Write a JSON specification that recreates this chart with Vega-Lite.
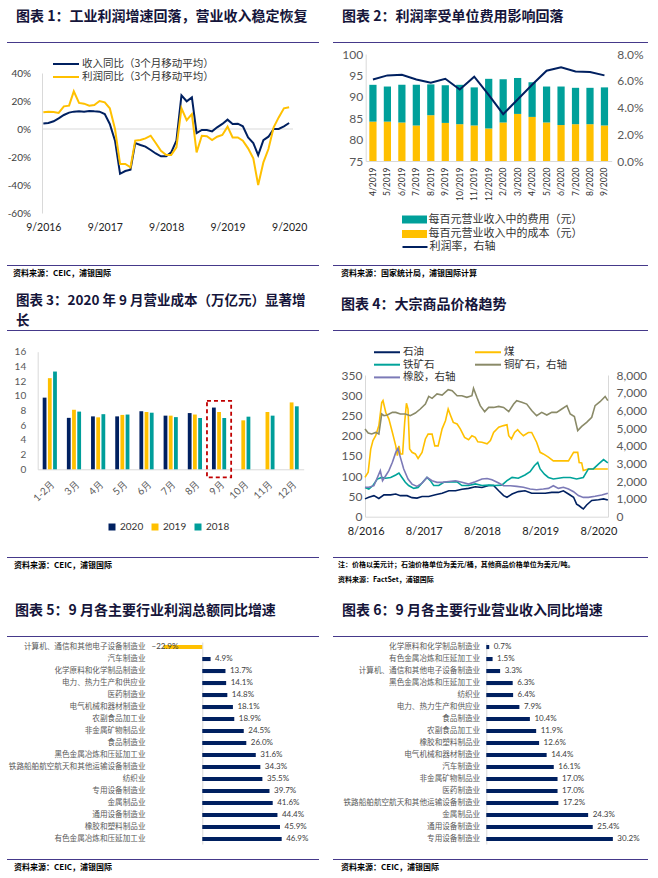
{
"$schema": "https://vega.github.io/schema/vega-lite/v6.json",
"background": "white",
"padding": {"left": 7, "top": 10, "right": 5, "bottom": 0},
"columns": 2,
"bounds": "flush",
"align": "each",
"spacing": {"row": 0, "column": 14},
"resolve": {"scale": {"color": "independent", "stroke": "independent"}, "legend": {"color": "independent", "stroke": "independent"}},
"config": {
  "view": {"stroke": null},
  "font": "Noto Sans CJK SC",
  "axis": {"ticks": false, "grid": false, "domainColor": "#D9D9D9", "labelFont": "Lato", "labelColor": "#595959", "labelOverlap": false, "labelFlush": false},
  "legend": {"labelFont": "Noto Sans CJK SC", "labelColor": "#333333"},
  "title": {"font": "Noto Sans CJK SC", "fontWeight": "bold", "anchor": "start", "color": "#15153A", "fontSize": 14}
},
"concat": [
  {"width": 312, "height": 1, "view": {"fill": "#45398A", "stroke": null}, "data": {"values": []}, "mark": "point",
   "title": {"text": "图表 1：工业利润增速回落，营业收入稳定恢复", "dx": 9, "offset": 18}},
  {"width": 315, "height": 1, "view": {"fill": "#45398A", "stroke": null}, "data": {"values": []}, "mark": "point",
   "title": {"text": "图表 2：利润率受单位费用影响回落", "dx": 9, "offset": 18}},

  {
    "width": 312, "height": 222,
    "data": {"values": [
      {"d":"2016/09/01","r":4.0,"p":11.9},{"d":"2016/10/01","r":4.3,"p":12.4},{"d":"2016/11/01","r":5.5,"p":12.1},{"d":"2016/12/01","r":7.6,"p":11.5},
      {"d":"2017/01/01","r":10.0,"p":16.2},{"d":"2017/02/01","r":11.7,"p":16.7},{"d":"2017/03/01","r":12.4,"p":26.9},{"d":"2017/04/01","r":12.6,"p":18.6},
      {"d":"2017/05/01","r":12.4,"p":18.1},{"d":"2017/06/01","r":12.9,"p":16.7},{"d":"2017/07/01","r":12.6,"p":17.1},{"d":"2017/08/01","r":12.4,"p":20.0},
      {"d":"2017/09/01","r":10.7,"p":19.0},{"d":"2017/10/01","r":3.6,"p":14.8},{"d":"2017/11/01","r":-8.3,"p":0.0},{"d":"2017/12/01","r":-32.0,"p":-25.0},
      {"d":"2018/01/01","r":-30.0,"p":-25.0},{"d":"2018/02/01","r":-29.0,"p":-27.4},{"d":"2018/03/01","r":-10.0,"p":-8.3},{"d":"2018/04/01","r":-11.4,"p":-7.9},
      {"d":"2018/05/01","r":-12.6,"p":-6.7},{"d":"2018/06/01","r":-15.0,"p":-4.8},{"d":"2018/07/01","r":-17.5,"p":-10.0},{"d":"2018/08/01","r":-19.5,"p":-15.5},
      {"d":"2018/09/01","r":-19.5,"p":-18.6},{"d":"2018/10/01","r":-16.7,"p":-18.6},{"d":"2018/11/01","r":-8.3,"p":-13.1},{"d":"2018/12/01","r":24.0,"p":14.8},
      {"d":"2019/01/01","r":19.8,"p":6.4},{"d":"2019/02/01","r":22.6,"p":10.7},{"d":"2019/03/01","r":-2.9,"p":-16.7},{"d":"2019/04/01","r":-0.7,"p":-4.8},
      {"d":"2019/05/01","r":-0.7,"p":-5.2},{"d":"2019/06/01","r":-1.7,"p":-7.9},{"d":"2019/07/01","r":1.2,"p":-5.5},{"d":"2019/08/01","r":3.6,"p":-4.3},
      {"d":"2019/09/01","r":6.7,"p":1.7},{"d":"2019/10/01","r":3.6,"p":-6.0},{"d":"2019/11/01","r":3.8,"p":-6.0},{"d":"2019/12/01","r":1.9,"p":-8.3},
      {"d":"2020/01/01","r":-6.0,"p":-13.8},{"d":"2020/02/01","r":-10.0,"p":-21.0},{"d":"2020/03/01","r":-18.6,"p":-40.0},{"d":"2020/04/01","r":-7.9,"p":-23.8},
      {"d":"2020/05/01","r":-5.5,"p":-14.3},{"d":"2020/06/01","r":0.0,"p":1.2},{"d":"2020/07/01","r":0.0,"p":8.3},{"d":"2020/08/01","r":1.9,"p":14.8},
      {"d":"2020/09/01","r":4.3,"p":15.5}
    ]},
    "layer": [
      {"data": {"values": [{"z": 0}]}, "mark": {"type": "rule", "color": "#D9D9D9", "strokeWidth": 1},
       "encoding": {
         "x": {"datum": {"year":2016,"month":8,"date":24}, "type": "temporal"},
         "x2": {"datum": {"year":2020,"month":9,"date":24}},
         "y": {"field": "z", "type": "quantitative"}}},
      {"mark": {"type": "line", "strokeWidth": 2},
       "encoding": {
         "x": {"field": "d", "type": "temporal", "title": null,
           "scale": {"domain": [{"year":2016,"month":8,"date":24},{"year":2020,"month":9,"date":24}], "range": [35, 286]},
           "axis": {"values": [{"year":2016,"month":9,"date":1},{"year":2017,"month":9,"date":1},{"year":2018,"month":9,"date":1},{"year":2019,"month":9,"date":1},{"year":2020,"month":9,"date":1}],
             "format": "%-m/%Y", "domain": false, "offset": -52, "labelPadding": 9, "labelFontSize": 10.5, "labelColor": "#222222"}},
         "y": {"field": "r", "type": "quantitative", "title": null, "scale": {"domain": [-60, 40], "range": [170, 30]},
           "axis": {"values": [-60,-40,-20,0,20,40], "labelExpr": "datum.value + '%'", "offset": -35, "labelPadding": 11.5, "labelFontSize": 10, "labelColor": "#404040", "domain": true}},
         "color": {"datum": "收入同比（3个月移动平均）",
           "scale": {"domain": ["收入同比（3个月移动平均）", "利润同比（3个月移动平均）"], "range": ["#002060", "#FFC000"]},
           "legend": {"orient": "none", "legendX": 53, "legendY": 15, "title": null, "symbolType": "M-2.6,0H2.6", "symbolSize": 100, "symbolStrokeWidth": 2, "labelFontSize": 10.5, "labelOffset": 10, "rowPadding": 1, "labelLimit": 300}}
       }},
      {"mark": {"type": "line", "strokeWidth": 2},
       "encoding": {
         "x": {"field": "d", "type": "temporal", "title": null},
         "y": {"field": "p", "type": "quantitative", "title": null},
         "color": {"datum": "利润同比（3个月移动平均）"}
       }}
    ]
  },
  {
    "width": 315, "height": 222,
    "data": {"values": [
      {"m":"4/2019","cost":84.2,"total":92.8,"rate":6.1},{"m":"5/2019","cost":84.2,"total":92.4,"rate":6.4},{"m":"6/2019","cost":84.0,"total":92.8,"rate":6.45},
      {"m":"7/2019","cost":83.3,"total":92.8,"rate":6.1},{"m":"8/2019","cost":85.7,"total":92.9,"rate":5.85},{"m":"9/2019","cost":83.9,"total":92.7,"rate":6.15},
      {"m":"10/2019","cost":83.6,"total":92.8,"rate":5.35},{"m":"11/2019","cost":83.3,"total":92.2,"rate":6.3},{"m":"12/2019","cost":82.6,"total":94.2,"rate":4.95},
      {"m":"2/2020","cost":84.0,"total":94.1,"rate":3.5},{"m":"3/2020","cost":86.0,"total":94.4,"rate":4.6},{"m":"4/2020","cost":85.3,"total":93.4,"rate":5.7},
      {"m":"5/2020","cost":84.0,"total":92.4,"rate":6.75},{"m":"6/2020","cost":83.4,"total":92.4,"rate":7.0},{"m":"7/2020","cost":83.6,"total":92.1,"rate":6.7},
      {"m":"8/2020","cost":83.6,"total":92.1,"rate":6.65},{"m":"9/2020","cost":83.3,"total":92.2,"rate":6.4}
    ]},
    "encoding": {"x": {"field": "m", "type": "ordinal", "sort": null, "title": null,
       "scale": {"range": [32.7, 278.7], "paddingInner": 0.5, "paddingOuter": 0.25},
       "axis": {"labelAngle": 270, "labelFontSize": 8.5, "labelColor": "#333333", "labelPadding": 6, "offset": -104, "domain": true}}},
    "layer": [
      {"layer": [
        {"mark": {"type": "bar"},
         "encoding": {
           "y": {"field": "cost", "type": "quantitative", "title": null, "scale": {"domain": [75, 100], "range": [118, 11], "zero": false, "nice": false},
             "axis": {"values": [75,80,85,90,95,100], "labelFontSize": 12, "labelPadding": 3, "offset": -32.7, "domain": true}},
           "y2": {"datum": 75},
           "color": {"datum": "每百元营业收入中的成本（元）",
             "scale": {"domain": ["每百元营业收入中的费用（元）", "每百元营业收入中的成本（元）"], "range": ["#00A09A", "#FFC000"]},
             "legend": {"orient": "none", "legendX": 76, "legendY": 171, "title": null, "symbolType": "M-2.5,-0.8H2.5V0.8H-2.5Z", "symbolSize": 100, "symbolStrokeWidth": 0, "labelFontSize": 11, "labelOffset": 8.5, "rowPadding": 2.5, "labelLimit": 300}}
         }},
        {"mark": {"type": "bar"},
         "encoding": {
           "y": {"field": "total", "type": "quantitative", "title": null},
           "y2": {"field": "cost"},
           "color": {"datum": "每百元营业收入中的费用（元）"}
         }}
      ]},
      {"mark": {"type": "line", "strokeWidth": 2},
       "encoding": {
         "y": {"field": "rate", "type": "quantitative", "title": null, "scale": {"domain": [0, 8], "range": [118, 11]},
           "axis": {"orient": "right", "values": [0,2,4,6,8], "labelExpr": "format(datum.value, '.1f') + '%'", "labelFontSize": 12, "labelPadding": 5, "offset": -36.3, "domain": false}},
         "stroke": {"datum": "利润率，右轴", "scale": {"range": ["#002060"]},
           "legend": {"orient": "none", "legendX": 76, "legendY": 198, "title": null, "symbolType": "M-2.5,0H2.5", "symbolSize": 100, "symbolStrokeWidth": 2, "labelFontSize": 11, "labelOffset": 8.5, "labelLimit": 300}}
       }}
    ],
    "resolve": {"scale": {"y": "independent"}}
  },

  {"width": 312, "height": 1, "view": {"fill": "#45398A", "stroke": null}, "data": {"values": []}, "mark": "point",
   "title": {"text": "资料来源：CEIC，浦银国际", "orient": "bottom", "dx": 6, "offset": 4, "fontSize": 8, "color": "#000000"}},
  {"width": 315, "height": 1, "view": {"fill": "#45398A", "stroke": null}, "data": {"values": []}, "mark": "point",
   "title": {"text": "资料来源：国家统计局，浦银国际计算", "orient": "bottom", "dx": 8, "offset": 4, "fontSize": 8, "color": "#000000"}},

  {"width": 1, "height": 64, "data": {"values": []}, "mark": "point"},
  {"width": 1, "height": 64, "data": {"values": []}, "mark": "point"},

  {"width": 312, "height": 1, "view": {"fill": "#45398A", "stroke": null}, "data": {"values": []}, "mark": "point",
   "title": {"text": ["图表 3：2020 年 9 月营业成本（万亿元）显著增", "长"], "dx": 9, "offset": 3, "fontSize": 13.5, "lineHeight": 20}},
  {"width": 315, "height": 1, "view": {"fill": "#45398A", "stroke": null}, "data": {"values": []}, "mark": "point",
   "title": {"text": "图表 4：大宗商品价格趋势", "dx": 8, "offset": 18}},

  {
    "width": 312, "height": 226,
    "layer": [
      {"data": {"values": [
        {"c":"1-2月","y":"2020","v":9.75},{"c":"1-2月","y":"2019","v":12.4},{"c":"1-2月","y":"2018","v":13.3},
        {"c":"3月","y":"2020","v":7.0},{"c":"3月","y":"2019","v":8.1},{"c":"3月","y":"2018","v":7.85},
        {"c":"4月","y":"2020","v":7.2},{"c":"4月","y":"2019","v":7.07},{"c":"4月","y":"2018","v":7.5},
        {"c":"5月","y":"2020","v":7.2},{"c":"5月","y":"2019","v":7.4},{"c":"5月","y":"2018","v":7.45},
        {"c":"6月","y":"2020","v":7.9},{"c":"6月","y":"2019","v":7.8},{"c":"6月","y":"2018","v":7.7},
        {"c":"7月","y":"2020","v":7.3},{"c":"7月","y":"2019","v":7.3},{"c":"7月","y":"2018","v":7.1},
        {"c":"8月","y":"2020","v":7.65},{"c":"8月","y":"2019","v":7.45},{"c":"8月","y":"2018","v":6.98},
        {"c":"9月","y":"2020","v":8.4},{"c":"9月","y":"2019","v":7.8},{"c":"9月","y":"2018","v":6.98},
        {"c":"10月","y":"2019","v":6.66},{"c":"10月","y":"2018","v":7.16},
        {"c":"11月","y":"2019","v":7.8},{"c":"11月","y":"2018","v":7.3},
        {"c":"12月","y":"2019","v":9.1},{"c":"12月","y":"2018","v":8.57}
       ]},
       "mark": {"type": "bar"},
       "encoding": {
         "x": {"field": "c", "type": "nominal", "title": null,
           "scale": {"domain": ["1-2月","3月","4月","5月","6月","7月","8月","9月","10月","11月","12月"], "range": [30.7, 296.7], "paddingInner": 0, "paddingOuter": 0},
           "axis": {"labelAngle": -45, "labelFontSize": 10, "labelColor": "#595959", "labelPadding": 9, "offset": -87.7, "domain": true}},
         "xOffset": {"field": "y", "type": "nominal", "scale": {"domain": ["2020","2019","2018"], "paddingInner": 0.27, "paddingOuter": 0.96}},
         "y": {"field": "v", "type": "quantitative", "title": null, "scale": {"domain": [0, 16], "range": [138.3, 20.7]},
           "axis": {"values": [0,2,4,6,8,10,12,14,16], "labelFontSize": 10, "labelPadding": 12, "labelColor": "#595959", "offset": -30.7, "domain": true}},
         "color": {"field": "y", "type": "nominal", "scale": {"domain": ["2020","2019","2018"], "range": ["#002060","#FFC000","#009E9A"]},
           "legend": {"orient": "none", "direction": "horizontal", "legendX": 100, "legendY": 191, "title": null, "symbolType": "square", "symbolSize": 49, "labelFont": "Lato", "labelFontSize": 10, "labelColor": "#333333", "columnPadding": 6, "labelOffset": 3}}
       }},
      {"data": {"values": [{"c": "9月", "hi": 9.3, "lo": -1.1}]},
       "mark": {"type": "rect", "filled": false, "stroke": "#C00000", "strokeWidth": 1.8, "strokeDash": [4, 3]},
       "encoding": {
         "x": {"field": "c", "type": "nominal", "title": null},
         "y": {"field": "hi", "type": "quantitative", "title": null,
           "axis": {"values": [0,2,4,6,8,10,12,14,16], "labelFontSize": 10, "labelPadding": 12, "labelColor": "#595959", "offset": -30.7, "domain": true}},
         "y2": {"field": "lo"}
       }}
    ]
  },
  {
    "width": 315, "height": 226,
    "data": {"values": [
      {"d":"2016/07/28","s":"石油","v":44},{"d":"2016/08/21","s":"石油","v":48},{"d":"2016/09/22","s":"石油","v":52},{"d":"2016/10/23","s":"石油","v":45},{"d":"2016/11/24","s":"石油","v":54},
      {"d":"2017/01/05","s":"石油","v":54},{"d":"2017/02/06","s":"石油","v":56},{"d":"2017/03/07","s":"石油","v":52},{"d":"2017/04/18","s":"石油","v":52},{"d":"2017/05/19","s":"石油","v":47},
      {"d":"2017/06/19","s":"石油","v":46},{"d":"2017/07/21","s":"石油","v":50},{"d":"2017/09/01","s":"石油","v":50},{"d":"2017/10/13","s":"石油","v":54},{"d":"2017/11/24","s":"石油","v":58},
      {"d":"2018/01/05","s":"石油","v":64},{"d":"2018/02/16","s":"石油","v":64},{"d":"2018/03/28","s":"石油","v":68},{"d":"2018/05/09","s":"石油","v":70},{"d":"2018/06/20","s":"石油","v":74},
      {"d":"2018/08/01","s":"石油","v":72},{"d":"2018/09/12","s":"石油","v":77},{"d":"2018/10/13","s":"石油","v":77},{"d":"2018/11/14","s":"石油","v":64},{"d":"2018/12/15","s":"石油","v":52},
      {"d":"2019/01/05","s":"石油","v":48},{"d":"2019/02/06","s":"石油","v":56},{"d":"2019/03/17","s":"石油","v":62},{"d":"2019/04/28","s":"石油","v":64},{"d":"2019/06/09","s":"石油","v":58},
      {"d":"2019/07/21","s":"石油","v":58},{"d":"2019/09/02","s":"石油","v":58},{"d":"2019/10/13","s":"石油","v":60},{"d":"2019/11/24","s":"石油","v":60},{"d":"2019/12/25","s":"石油","v":64},
      {"d":"2020/01/26","s":"石油","v":56},{"d":"2020/02/27","s":"石油","v":48},{"d":"2020/03/17","s":"石油","v":31},{"d":"2020/04/02","s":"石油","v":27},{"d":"2020/04/28","s":"石油","v":19},
      {"d":"2020/05/19","s":"石油","v":29},{"d":"2020/06/20","s":"石油","v":40},{"d":"2020/08/01","s":"石油","v":42},{"d":"2020/09/02","s":"石油","v":44},{"d":"2020/09/29","s":"石油","v":41},

      {"d":"2016/07/28","s":"煤","v":97},{"d":"2016/08/17","s":"煤","v":110},{"d":"2016/09/02","s":"煤","v":167},{"d":"2016/09/16","s":"煤","v":188},{"d":"2016/10/03","s":"煤","v":200},
      {"d":"2016/10/23","s":"煤","v":225},{"d":"2016/11/10","s":"煤","v":282},{"d":"2016/11/18","s":"煤","v":287},{"d":"2016/12/05","s":"煤","v":258},{"d":"2016/12/25","s":"煤","v":241},
      {"d":"2017/01/16","s":"煤","v":208},{"d":"2017/02/06","s":"煤","v":175},{"d":"2017/02/16","s":"煤","v":151},{"d":"2017/02/26","s":"煤","v":175},{"d":"2017/03/07","s":"煤","v":155},
      {"d":"2017/03/21","s":"煤","v":155},{"d":"2017/04/03","s":"煤","v":233},{"d":"2017/04/14","s":"煤","v":280},{"d":"2017/04/24","s":"煤","v":266},{"d":"2017/05/04","s":"煤","v":167},
      {"d":"2017/05/19","s":"煤","v":159},{"d":"2017/06/09","s":"煤","v":155},{"d":"2017/06/26","s":"煤","v":144},{"d":"2017/07/21","s":"煤","v":159},{"d":"2017/08/11","s":"煤","v":192},
      {"d":"2017/08/28","s":"煤","v":204},{"d":"2017/09/22","s":"煤","v":204},{"d":"2017/10/09","s":"煤","v":175},{"d":"2017/10/30","s":"煤","v":175},{"d":"2017/11/24","s":"煤","v":217},
      {"d":"2017/12/15","s":"煤","v":237},{"d":"2018/01/01","s":"煤","v":266},{"d":"2018/01/16","s":"煤","v":250},{"d":"2018/02/02","s":"煤","v":233},{"d":"2018/02/26","s":"煤","v":229},
      {"d":"2018/03/18","s":"煤","v":217},{"d":"2018/04/14","s":"煤","v":196},{"d":"2018/05/09","s":"煤","v":190},{"d":"2018/05/30","s":"煤","v":200},{"d":"2018/06/20","s":"煤","v":196},
      {"d":"2018/07/06","s":"煤","v":185},{"d":"2018/08/01","s":"煤","v":184},{"d":"2018/09/02","s":"煤","v":180},{"d":"2018/09/23","s":"煤","v":188},{"d":"2018/10/13","s":"煤","v":208},
      {"d":"2018/11/14","s":"煤","v":221},{"d":"2018/12/15","s":"煤","v":225},{"d":"2019/01/05","s":"煤","v":227},{"d":"2019/01/16","s":"煤","v":200},{"d":"2019/02/02","s":"煤","v":192},
      {"d":"2019/02/22","s":"煤","v":208},{"d":"2019/03/13","s":"煤","v":215},{"d":"2019/03/28","s":"煤","v":208},{"d":"2019/04/18","s":"煤","v":200},{"d":"2019/05/19","s":"煤","v":208},
      {"d":"2019/06/09","s":"煤","v":208},{"d":"2019/07/10","s":"煤","v":184},{"d":"2019/08/01","s":"煤","v":159},{"d":"2019/08/21","s":"煤","v":155},{"d":"2019/09/22","s":"煤","v":147},
      {"d":"2019/10/23","s":"煤","v":138},{"d":"2019/11/24","s":"煤","v":138},{"d":"2019/12/25","s":"煤","v":138},{"d":"2020/01/26","s":"煤","v":138},{"d":"2020/02/27","s":"煤","v":159},
      {"d":"2020/03/24","s":"煤","v":159},{"d":"2020/04/02","s":"煤","v":134},{"d":"2020/04/18","s":"煤","v":133},{"d":"2020/04/28","s":"煤","v":114},{"d":"2020/05/30","s":"煤","v":118},
      {"d":"2020/07/11","s":"煤","v":118},{"d":"2020/09/29","s":"煤","v":118},

      {"d":"2016/07/28","s":"铁矿石","v":72},{"d":"2016/08/21","s":"铁矿石","v":68},{"d":"2016/09/16","s":"铁矿石","v":77},{"d":"2016/10/13","s":"铁矿石","v":93},{"d":"2016/11/10","s":"铁矿石","v":97},
      {"d":"2016/12/05","s":"铁矿石","v":95},{"d":"2017/01/05","s":"铁矿石","v":97},{"d":"2017/02/06","s":"铁矿石","v":103},{"d":"2017/02/26","s":"铁矿石","v":108},{"d":"2017/03/17","s":"铁矿石","v":97},
      {"d":"2017/04/07","s":"铁矿石","v":85},{"d":"2017/04/28","s":"铁矿石","v":77},{"d":"2017/05/30","s":"铁矿石","v":70},{"d":"2017/06/26","s":"铁矿石","v":72},{"d":"2017/07/25","s":"铁矿石","v":85},
      {"d":"2017/08/21","s":"铁矿石","v":97},{"d":"2017/09/11","s":"铁矿石","v":89},{"d":"2017/10/02","s":"铁矿石","v":77},{"d":"2017/11/03","s":"铁矿石","v":77},{"d":"2017/12/04","s":"铁矿石","v":85},
      {"d":"2018/01/16","s":"铁矿石","v":86},{"d":"2018/02/26","s":"铁矿石","v":86},{"d":"2018/03/28","s":"铁矿石","v":77},{"d":"2018/05/09","s":"铁矿石","v":77},{"d":"2018/06/20","s":"铁矿石","v":81},
      {"d":"2018/08/01","s":"铁矿石","v":77},{"d":"2018/09/12","s":"铁矿石","v":78},{"d":"2018/10/23","s":"铁矿石","v":77},{"d":"2018/12/04","s":"铁矿石","v":78},{"d":"2019/01/05","s":"铁矿石","v":89},
      {"d":"2019/02/06","s":"铁矿石","v":97},{"d":"2019/03/17","s":"铁矿石","v":95},{"d":"2019/04/28","s":"铁矿石","v":103},{"d":"2019/05/30","s":"铁矿石","v":111},{"d":"2019/06/26","s":"铁矿石","v":126},
      {"d":"2019/07/17","s":"铁矿石","v":134},{"d":"2019/08/01","s":"铁矿石","v":118},{"d":"2019/08/28","s":"铁矿石","v":105},{"d":"2019/09/22","s":"铁矿石","v":97},{"d":"2019/10/23","s":"铁矿石","v":93},
      {"d":"2019/11/24","s":"铁矿石","v":95},{"d":"2019/12/25","s":"铁矿石","v":97},{"d":"2020/02/06","s":"铁矿石","v":97},{"d":"2020/03/17","s":"铁矿石","v":93},{"d":"2020/04/28","s":"铁矿石","v":97},
      {"d":"2020/05/30","s":"铁矿石","v":118},{"d":"2020/06/30","s":"铁矿石","v":118},{"d":"2020/08/01","s":"铁矿石","v":130},{"d":"2020/09/02","s":"铁矿石","v":141},{"d":"2020/09/29","s":"铁矿石","v":133},

      {"d":"2016/07/28","s":"铜矿石，右轴","v":4950},{"d":"2016/08/17","s":"铜矿石，右轴","v":4720},{"d":"2016/09/08","s":"铜矿石，右轴","v":4670},{"d":"2016/10/03","s":"铜矿石，右轴","v":4760},
      {"d":"2016/10/23","s":"铜矿石，右轴","v":4670},{"d":"2016/11/10","s":"铜矿石，右轴","v":5800},{"d":"2016/11/24","s":"铜矿石，右轴","v":5700},{"d":"2016/12/15","s":"铜矿石，右轴","v":5740},
      {"d":"2017/01/16","s":"铜矿石，右轴","v":5890},{"d":"2017/02/06","s":"铜矿石，右轴","v":5890},{"d":"2017/03/07","s":"铜矿石，右轴","v":5800},{"d":"2017/04/07","s":"铜矿石，右轴","v":5800},
      {"d":"2017/05/08","s":"铜矿石，右轴","v":5700},{"d":"2017/06/09","s":"铜矿石，右轴","v":5850},{"d":"2017/07/10","s":"铜矿石，右轴","v":6080},{"d":"2017/08/11","s":"铜矿石，右轴","v":6360},
      {"d":"2017/09/01","s":"铜矿石，右轴","v":6790},{"d":"2017/09/22","s":"铜矿石，右轴","v":6680},{"d":"2017/10/23","s":"铜矿石，右轴","v":6930},{"d":"2017/11/24","s":"铜矿石，右轴","v":6870},
      {"d":"2018/01/01","s":"铜矿石，右轴","v":7170},{"d":"2018/01/26","s":"铜矿石，右轴","v":7110},{"d":"2018/02/26","s":"铜矿石，右轴","v":6830},{"d":"2018/03/28","s":"铜矿石，右轴","v":6830},
      {"d":"2018/04/28","s":"铜矿石，右轴","v":6740},{"d":"2018/05/30","s":"铜矿石，右轴","v":6830},{"d":"2018/06/09","s":"铜矿石，右轴","v":7250},{"d":"2018/06/30","s":"铜矿石，右轴","v":6740},
      {"d":"2018/07/21","s":"铜矿石，右轴","v":6270},{"d":"2018/08/18","s":"铜矿石，右轴","v":5930},{"d":"2018/09/12","s":"铜矿石，右轴","v":6170},{"d":"2018/10/13","s":"铜矿石，右轴","v":6170},
      {"d":"2018/11/14","s":"铜矿石，右轴","v":6230},{"d":"2018/12/15","s":"铜矿石，右轴","v":6170},{"d":"2019/01/16","s":"铜矿石，右轴","v":5930},{"d":"2019/02/16","s":"铜矿石，右轴","v":6360},
      {"d":"2019/03/07","s":"铜矿石，右轴","v":6550},{"d":"2019/04/08","s":"铜矿石，右轴","v":6460},{"d":"2019/05/09","s":"铜矿石，右轴","v":6360},{"d":"2019/06/09","s":"铜矿石，右轴","v":5990},
      {"d":"2019/07/10","s":"铜矿石，右轴","v":5700},{"d":"2019/08/11","s":"铜矿石，右轴","v":5890},{"d":"2019/09/12","s":"铜矿石，右轴","v":5740},{"d":"2019/10/13","s":"铜矿石，右轴","v":5890},
      {"d":"2019/11/13","s":"铜矿石，右轴","v":5890},{"d":"2019/12/15","s":"铜矿石，右轴","v":6080},{"d":"2020/01/16","s":"铜矿石，右轴","v":6270},{"d":"2020/02/06","s":"铜矿石，右轴","v":5800},
      {"d":"2020/03/03","s":"铜矿石，右轴","v":5660},{"d":"2020/03/24","s":"铜矿石，右轴","v":4860},{"d":"2020/04/18","s":"铜矿石，右轴","v":5100},{"d":"2020/05/19","s":"铜矿石，右轴","v":5330},
      {"d":"2020/06/20","s":"铜矿石，右轴","v":5610},{"d":"2020/07/11","s":"铜矿石，右轴","v":6270},{"d":"2020/08/11","s":"铜矿石，右轴","v":6490},{"d":"2020/09/12","s":"铜矿石，右轴","v":6790},
      {"d":"2020/09/29","s":"铜矿石，右轴","v":6550},

      {"d":"2016/07/28","s":"橡胶，右轴","v":1660},{"d":"2016/08/21","s":"橡胶，右轴","v":1660},{"d":"2016/09/22","s":"橡胶，右轴","v":1750},{"d":"2016/11/01","s":"橡胶，右轴","v":2600},
      {"d":"2016/11/15","s":"橡胶，右轴","v":2030},{"d":"2016/12/05","s":"橡胶，右轴","v":2310},{"d":"2016/12/25","s":"橡胶，右轴","v":2600},{"d":"2017/01/16","s":"橡胶，右轴","v":3070},
      {"d":"2017/02/06","s":"橡胶，右轴","v":3630},{"d":"2017/02/20","s":"橡胶，右轴","v":3860},{"d":"2017/03/07","s":"橡胶，右轴","v":3350},{"d":"2017/03/28","s":"橡胶，右轴","v":2690},
      {"d":"2017/04/24","s":"橡胶，右轴","v":2130},{"d":"2017/05/19","s":"橡胶，右轴","v":1840},{"d":"2017/06/19","s":"橡胶，右轴","v":1710},{"d":"2017/07/21","s":"橡胶，右轴","v":1900},
      {"d":"2017/08/21","s":"橡胶，右轴","v":2220},{"d":"2017/09/22","s":"橡胶，右轴","v":2030},{"d":"2017/10/23","s":"橡胶，右轴","v":1940},{"d":"2017/11/24","s":"橡胶，右轴","v":1940},
      {"d":"2018/01/05","s":"橡胶，右轴","v":1990},{"d":"2018/02/16","s":"橡胶，右轴","v":2030},{"d":"2018/03/28","s":"橡胶，右轴","v":1940},{"d":"2018/05/09","s":"橡胶，右轴","v":1840},
      {"d":"2018/06/20","s":"橡胶，右轴","v":1980},{"d":"2018/08/01","s":"橡胶，右轴","v":2130},{"d":"2018/09/02","s":"橡胶，右轴","v":2160},{"d":"2018/10/03","s":"橡胶，右轴","v":2090},
      {"d":"2018/11/14","s":"橡胶，右轴","v":1900},{"d":"2018/12/15","s":"橡胶，右轴","v":1750},{"d":"2019/01/26","s":"橡胶，右轴","v":1750},{"d":"2019/03/07","s":"橡胶，右轴","v":1710},
      {"d":"2019/04/18","s":"橡胶，右轴","v":1660},{"d":"2019/05/30","s":"橡胶，右轴","v":1560},{"d":"2019/07/10","s":"橡胶，右轴","v":1520},{"d":"2019/08/21","s":"橡胶，右轴","v":1560},
      {"d":"2019/09/22","s":"橡胶，右轴","v":1600},{"d":"2019/10/23","s":"橡胶，右轴","v":1750},{"d":"2019/11/24","s":"橡胶，右轴","v":1600},{"d":"2019/12/25","s":"橡胶，右轴","v":1660},
      {"d":"2020/01/26","s":"橡胶，右轴","v":1560},{"d":"2020/02/27","s":"橡胶，右轴","v":1410},{"d":"2020/03/28","s":"橡胶，右轴","v":1190},{"d":"2020/04/28","s":"橡胶，右轴","v":1090},
      {"d":"2020/05/30","s":"橡胶，右轴","v":1090},{"d":"2020/07/11","s":"橡胶，右轴","v":1150},{"d":"2020/08/22","s":"橡胶，右轴","v":1220},{"d":"2020/09/29","s":"橡胶，右轴","v":1320}
    ]},
    "encoding": {
      "x": {"field": "d", "type": "temporal", "title": null,
        "scale": {"domain": [{"year":2016,"month":7,"date":28},{"year":2020,"month":9,"date":30}], "range": [32, 275]},
        "axis": {"values": [{"year":2016,"month":8,"date":1},{"year":2017,"month":8,"date":1},{"year":2018,"month":8,"date":1},{"year":2019,"month":8,"date":1},{"year":2020,"month":8,"date":1}],
          "format": "%-m/%Y", "labelFontSize": 11, "labelColor": "#222222", "labelPadding": 9, "offset": -40.3, "domain": true}},
      "color": {"field": "s", "type": "nominal",
        "scale": {"domain": ["石油","煤","铁矿石","铜矿石，右轴","橡胶，右轴"], "range": ["#002060","#FFC000","#00A39A","#8A8A68","#7C7AB7"]},
        "legend": {"orient": "none", "direction": "horizontal", "legendX": 48, "legendY": 15, "columns": 2, "columnPadding": 15, "title": null, "symbolType": "M-2.6,0H2.6", "symbolSize": 100, "symbolStrokeWidth": 2, "labelFontSize": 10.5, "labelOffset": 10, "rowPadding": 0.7, "labelLimit": 300}}
    },
    "layer": [
      {"transform": [{"filter": {"field": "s", "oneOf": ["石油","煤","铁矿石"]}}],
       "mark": {"type": "line", "strokeWidth": 1.6},
       "encoding": {"y": {"field": "v", "type": "quantitative", "title": null, "scale": {"domain": [0, 350], "range": [185.7, 44]},
         "axis": {"values": [0,50,100,150,200,250,300,350], "labelFontSize": 12, "labelPadding": 3, "offset": -32, "domain": true}}}},
      {"transform": [{"filter": {"field": "s", "oneOf": ["铜矿石，右轴","橡胶，右轴"]}}],
       "mark": {"type": "line", "strokeWidth": 1.6},
       "encoding": {"y": {"field": "v", "type": "quantitative", "title": null, "scale": {"domain": [0, 8000], "range": [185.7, 44]},
         "axis": {"orient": "right", "values": [0,1000,2000,3000,4000,5000,6000,7000,8000], "format": ",.0f", "labelFontSize": 12, "labelPadding": 8, "offset": -40, "domain": true}}}}
    ],
    "resolve": {"scale": {"y": "independent"}}
  },

  {"width": 312, "height": 1, "view": {"fill": "#45398A", "stroke": null}, "data": {"values": []}, "mark": "point",
   "title": {"text": "资料来源：CEIC，浦银国际", "orient": "bottom", "dx": 7, "offset": 4, "fontSize": 8, "color": "#000000"}},
  {"width": 315, "height": 1, "view": {"fill": "#45398A", "stroke": null}, "data": {"values": []}, "mark": "point",
   "title": {"text": ["注：价格以美元计；石油价格单位为美元/桶，其他商品价格单位为美元/吨。", "资料来源：FactSet，浦银国际"], "orient": "bottom", "dx": 5, "offset": 3, "fontSize": 7, "lineHeight": 15, "color": "#000000"}},

  {"width": 1, "height": 78, "data": {"values": []}, "mark": "point"},
  {"width": 1, "height": 78, "data": {"values": []}, "mark": "point"},

  {"width": 312, "height": 1, "view": {"fill": "#45398A", "stroke": null}, "data": {"values": []}, "mark": "point",
   "title": {"text": "图表 5：9 月各主要行业利润总额同比增速", "dx": 8, "offset": 18}},
  {"width": 315, "height": 1, "view": {"fill": "#45398A", "stroke": null}, "data": {"values": []}, "mark": "point",
   "title": {"text": "图表 6：9 月各主要行业营业收入同比增速", "dx": 9, "offset": 18}},

  {
    "width": 312, "height": 222,
    "data": {"values": [
      {"c":"计算机、通信和其他电子设备制造业","v":-0.229},{"c":"汽车制造业","v":0.049},{"c":"化学原料和化学制品制造业","v":0.137},
      {"c":"电力、热力生产和供应业","v":0.141},{"c":"医药制造业","v":0.148},{"c":"电气机械和器材制造业","v":0.181},
      {"c":"农副食品加工业","v":0.189},{"c":"非金属矿物制品业","v":0.245},{"c":"食品制造业","v":0.26},
      {"c":"黑色金属冶炼和压延加工业","v":0.316},{"c":"铁路船舶航空航天和其他运输设备制造业","v":0.343},{"c":"纺织业","v":0.355},
      {"c":"专用设备制造业","v":0.397},{"c":"金属制品业","v":0.416},{"c":"通用设备制造业","v":0.444},
      {"c":"橡胶和塑料制品业","v":0.459},{"c":"有色金属冶炼和压延加工业","v":0.469}
    ]},
    "encoding": {
      "y": {"field": "c", "type": "nominal", "sort": null, "title": null, "scale": {"range": [5, 207], "paddingInner": 0.66, "paddingOuter": 0.25},
        "axis": {"labelFont": "Noto Sans CJK SC", "labelFontSize": 7.6, "labelColor": "#595959", "labelPadding": 57.3, "offset": -195.3, "domain": true, "labelLimit": 300}},
      "x": {"field": "v", "type": "quantitative", "scale": {"domain": [-0.32, 0.55], "range": [141.1, 288.4]}, "axis": null}
    },
    "layer": [
      {"mark": {"type": "bar"},
       "encoding": {"color": {"condition": {"test": "datum.v < 0", "value": "#FFC000"}, "value": "#002060"}}},
      {"transform": [{"filter": "datum.v >= 0"}],
       "mark": {"type": "text", "align": "left", "dx": 4.5, "font": "Lato", "fontSize": 8, "color": "#404040"},
       "encoding": {"text": {"field": "v", "type": "quantitative", "format": ".1%"}}},
      {"transform": [{"filter": "datum.v < 0"}],
       "mark": {"type": "text", "align": "left", "dx": -12, "font": "Lato", "fontSize": 8, "color": "#404040"},
       "encoding": {"text": {"field": "v", "type": "quantitative", "format": ".1%"}}}
    ]
  },
  {
    "width": 315, "height": 222,
    "data": {"values": [
      {"c":"化学原料和化学制品制造业","v":0.007},{"c":"有色金属冶炼和压延加工业","v":0.015},{"c":"计算机、通信和其他电子设备制造业","v":0.033},
      {"c":"黑色金属冶炼和压延加工业","v":0.063},{"c":"纺织业","v":0.064},{"c":"电力、热力生产和供应业","v":0.079},
      {"c":"食品制造业","v":0.104},{"c":"农副食品加工业","v":0.119},{"c":"橡胶和塑料制品业","v":0.126},
      {"c":"电气机械和器材制造业","v":0.144},{"c":"汽车制造业","v":0.161},{"c":"非金属矿物制品业","v":0.17},
      {"c":"医药制造业","v":0.17},{"c":"铁路船舶航空航天和其他运输设备制造业","v":0.172},{"c":"金属制品业","v":0.243},
      {"c":"通用设备制造业","v":0.254},{"c":"专用设备制造业","v":0.302}
    ]},
    "encoding": {
      "y": {"field": "c", "type": "nominal", "sort": null, "title": null, "scale": {"range": [5, 207], "paddingInner": 0.66, "paddingOuter": 0.25},
        "axis": {"labelFont": "Noto Sans CJK SC", "labelFontSize": 7.6, "labelColor": "#595959", "labelPadding": 6.6, "offset": -153.3, "domain": true, "labelLimit": 300}},
      "x": {"field": "v", "type": "quantitative", "scale": {"domain": [0, 0.33], "range": [153.3, 291.6]}, "axis": null}
    },
    "layer": [
      {"mark": {"type": "bar", "color": "#002060"}},
      {"mark": {"type": "text", "align": "left", "dx": 4.5, "font": "Lato", "fontSize": 8, "color": "#404040"},
       "encoding": {"text": {"field": "v", "type": "quantitative", "format": ".1%"}}}
    ]
  },

  {"width": 312, "height": 1, "view": {"fill": "#45398A", "stroke": null}, "data": {"values": []}, "mark": "point",
   "title": {"text": "资料来源：CEIC，浦银国际", "orient": "bottom", "dx": 7, "offset": 4, "fontSize": 8, "color": "#000000"}},
  {"width": 315, "height": 1, "view": {"fill": "#45398A", "stroke": null}, "data": {"values": []}, "mark": "point",
   "title": {"text": "资料来源：CEIC，浦银国际", "orient": "bottom", "dx": 8, "offset": 4, "fontSize": 8, "color": "#000000"}}
]
}
